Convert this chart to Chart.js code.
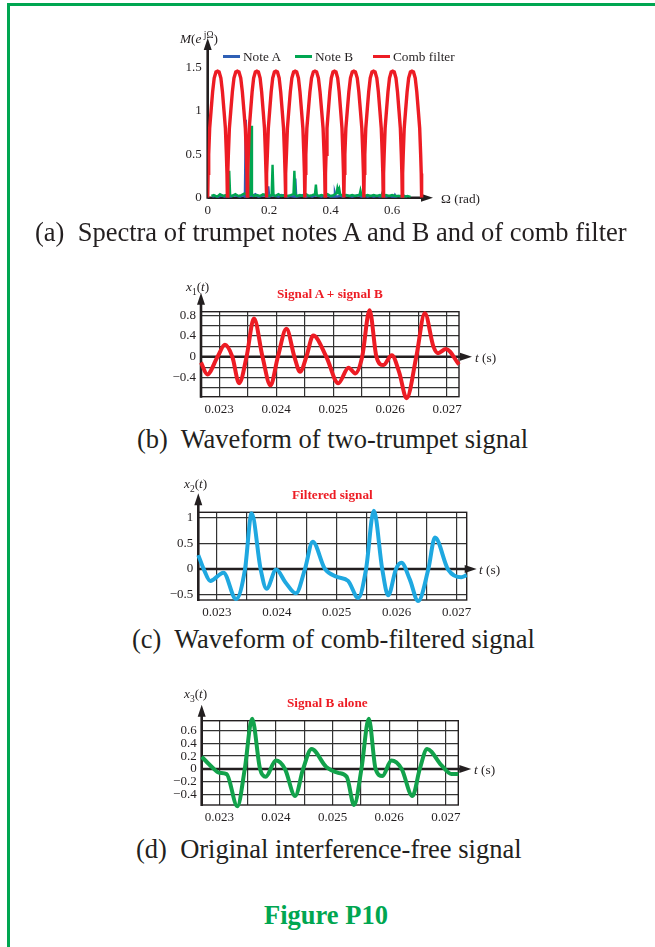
<!DOCTYPE html>
<html>
<head>
<meta charset="utf-8">
<script src="https://cdn.jsdelivr.net/npm/chart.js@4.4.1/dist/chart.umd.min.js"></script>
<style>
  body { margin: 0; background: #fff; }
  #page { position: relative; width: 655px; height: 947px; overflow: hidden; font-family: "Liberation Serif", "Times New Roman", serif; color: #231f20; }
  .frame-top { position: absolute; left: 7px; top: 3px; width: 648px; height: 3px; background: #00a651; }
  .frame-left { position: absolute; left: 7px; top: 3px; width: 3px; height: 944px; background: #00a651; }
  .plot { position: absolute; }
  .lbl { position: absolute; white-space: nowrap; line-height: 1; font-size: 13.3px; }
  .lbl sub, .lbl sup { font-size: 9.5px; line-height: 0; }
  .ttl { position: absolute; white-space: nowrap; line-height: 1; font-size: 13.2px; font-weight: bold; color: #ed1c24; }
  .cap { position: absolute; white-space: pre; line-height: 1; font-size: 26.5px; }
  .fig { position: absolute; white-space: nowrap; line-height: 1; font-size: 26.5px; font-weight: bold; color: #00a651; }
  .key { position: absolute; height: 3px; width: 17px; }
</style>
</head>
<body>
<div id="page">
  <div class="frame-top"></div>
  <div class="frame-left"></div>

  <!-- (a) spectra -->
  <div class="plot" style="left:150px; top:20px;"><canvas id="specChart" width="340" height="210"></canvas></div>
  <div class="lbl" style="left:180px; top:32px;"><i>M</i>(<i>e</i><sup> j&Omega;</sup>)</div>
  <div class="key" style="left:223px; top:55px; background:#2e5fb5;"></div>
  <div class="lbl" style="left:243px; top:50px;">Note A</div>
  <div class="key" style="left:295px; top:55px; background:#00a651;"></div>
  <div class="lbl" style="left:315px; top:50px;">Note B</div>
  <div class="key" style="left:373px; top:55px; background:#ed1c24;"></div>
  <div class="lbl" style="left:393px; top:50px;">Comb filter</div>
  <div class="lbl" style="left:441px; top:192px;">&Omega; (rad)</div>
  <div class="cap" style="left:35px; top:219px;">(a)  Spectra of trumpet notes A and B and of comb filter</div>

  <!-- (b) two-trumpet signal -->
  <div class="plot" style="left:150px; top:275px;"><canvas id="mixChart" width="340" height="145"></canvas></div>
  <div class="lbl" style="left:186px; top:280px;"><i>x</i><sub>1</sub>(<i>t</i>)</div>
  <div class="ttl" style="left:277px; top:287px;">Signal A + signal B</div>
  <div class="lbl" style="left:475px; top:351px;"><i>t</i> (s)</div>
  <div class="cap" style="left:137px; top:426px;">(b)  Waveform of two-trumpet signal</div>

  <!-- (c) filtered signal -->
  <div class="plot" style="left:150px; top:470px;"><canvas id="filtChart" width="340" height="150"></canvas></div>
  <div class="lbl" style="left:184px; top:477px;"><i>x</i><sub>2</sub>(<i>t</i>)</div>
  <div class="ttl" style="left:292px; top:488px;">Filtered signal</div>
  <div class="lbl" style="left:479px; top:563px;"><i>t</i> (s)</div>
  <div class="cap" style="left:132px; top:626px;">(c)  Waveform of comb-filtered signal</div>

  <!-- (d) signal B alone -->
  <div class="plot" style="left:150px; top:680px;"><canvas id="origChart" width="340" height="145"></canvas></div>
  <div class="lbl" style="left:184px; top:687px;"><i>x</i><sub>3</sub>(<i>t</i>)</div>
  <div class="ttl" style="left:287px; top:696px;">Signal B alone</div>
  <div class="lbl" style="left:474px; top:763px;"><i>t</i> (s)</div>
  <div class="cap" style="left:136px; top:836px;">(d)  Original interference-free signal</div>

  <div class="fig" style="left:264px; top:902px;">Figure P10</div>
</div>

<script>
// ---- (a) spectra ----
const noteAOmega = [
  0.015, 0.025, 0.035, 0.045, 0.055, 0.065, 0.075, 0.085, 0.095, 0.105,
  0.115, 0.121, 0.124, 0.127, 0.135, 0.145, 0.155, 0.165, 0.175, 0.185,
  0.194, 0.197, 0.200, 0.210, 0.220, 0.230, 0.240, 0.250, 0.260, 0.270,
  0.282, 0.285, 0.288, 0.300, 0.310, 0.320, 0.330, 0.340, 0.350, 0.360,
  0.370, 0.380, 0.390, 0.400, 0.411, 0.414, 0.417, 0.430, 0.440, 0.450,
  0.460, 0.470, 0.480, 0.490, 0.500, 0.510, 0.520, 0.530, 0.540, 0.550,
  0.560, 0.570, 0.580, 0.590, 0.600, 0.606, 0.609, 0.612, 0.620, 0.630,
  0.640, 0.650
];
const noteAMag = [
  0.01, 0.02, 0.01, 0.03, 0.01, 0.02, 0.01, 0.03, 0.02, 0.01,
  0.03, 0.01, 0.90, 0.01, 0.03, 0.02, 0.04, 0.01, 0.02, 0.03,
  0.01, 0.13, 0.01, 0.03, 0.02, 0.01, 0.03, 0.02, 0.01, 0.02,
  0.01, 0.22, 0.01, 0.02, 0.03, 0.01, 0.02, 0.01, 0.03, 0.02,
  0.01, 0.02, 0.03, 0.01, 0.01, 0.05, 0.01, 0.02, 0.01, 0.03,
  0.02, 0.01, 0.02, 0.03, 0.01, 0.02, 0.01, 0.02, 0.01, 0.02,
  0.01, 0.03, 0.01, 0.02, 0.01, 0.01, 0.03, 0.01, 0.02, 0.01,
  0.02, 0.01
];
const noteBOmega = [
  0.012, 0.020, 0.030, 0.040, 0.050, 0.060, 0.067, 0.070, 0.073, 0.080,
  0.090, 0.100, 0.110, 0.120, 0.130, 0.138, 0.141, 0.144, 0.150, 0.160,
  0.170, 0.180, 0.190, 0.200, 0.208, 0.211, 0.214, 0.220, 0.230, 0.240,
  0.250, 0.260, 0.270, 0.279, 0.282, 0.285, 0.290, 0.300, 0.310, 0.320,
  0.330, 0.340, 0.349, 0.352, 0.355, 0.360, 0.370, 0.380, 0.390, 0.400,
  0.410, 0.419, 0.422, 0.425, 0.428, 0.431, 0.440, 0.450, 0.460, 0.470,
  0.480, 0.490, 0.494, 0.497, 0.500, 0.510, 0.520, 0.530, 0.540, 0.550,
  0.560, 0.565, 0.568, 0.571, 0.580, 0.590, 0.600, 0.610, 0.620, 0.633,
  0.636, 0.639, 0.650, 0.660
];
const noteBMag = [
  0.02, 0.03, 0.01, 0.04, 0.02, 0.03, 0.02, 0.31, 0.03, 0.02,
  0.04, 0.02, 0.03, 0.05, 0.02, 0.03, 0.83, 0.04, 0.02, 0.03,
  0.02, 0.04, 0.03, 0.02, 0.03, 0.38, 0.03, 0.02, 0.04, 0.02,
  0.03, 0.02, 0.03, 0.04, 0.31, 0.04, 0.02, 0.03, 0.02, 0.04,
  0.02, 0.03, 0.04, 0.15, 0.03, 0.02, 0.03, 0.02, 0.04, 0.02,
  0.03, 0.05, 0.11, 0.07, 0.10, 0.04, 0.02, 0.03, 0.02, 0.03,
  0.02, 0.03, 0.03, 0.08, 0.03, 0.02, 0.03, 0.02, 0.03, 0.02,
  0.03, 0.02, 0.05, 0.02, 0.03, 0.02, 0.03, 0.02, 0.02, 0.02,
  0.03, 0.01, 0.02, 0.01
];
// comb filter: notch positions and the shape of one lobe
const combZeros = [0, 0.064, 0.129, 0.191, 0.253, 0.316, 0.382, 0.443, 0.508, 0.571, 0.633, 0.696];
const lobeFrac = [0, 0.02, 0.05, 0.1, 0.17, 0.25, 0.33, 0.42, 0.5, 0.58, 0.67, 0.75, 0.83, 0.9, 0.95, 0.98];
const lobeMag  = [0, 0.28, 0.5, 0.8, 1.0, 1.22, 1.38, 1.45, 1.46, 1.45, 1.38, 1.22, 1.0, 0.8, 0.5, 0.28];
const specYTicks = [0, 0.5, 1, 1.5];
const specYLabels = ['0', '0.5', '1', '1.5'];
const specXTicks = [0, 0.2, 0.4, 0.6];
const specXLabels = ['0', '0.2', '0.4', '0.6'];

// ---- (b)(c)(d) waveforms ----
const timeMix = [0.02268, 0.02279, 0.02297, 0.02310, 0.02323, 0.02335, 0.02348, 0.02361, 0.02376, 0.02390,
  0.02403, 0.02418, 0.02432, 0.02442, 0.02453, 0.02465, 0.02488, 0.02509, 0.02527, 0.02539,
  0.02551, 0.02564, 0.02576, 0.02588, 0.02603, 0.02616, 0.02629, 0.02646, 0.02661, 0.02676,
  0.02684, 0.02698, 0.02721];
const signalMix = [-0.11, -0.34, 0, 0.23, 0, -0.51, 0, 0.74, 0, -0.55,
  0, 0.54, 0, -0.29, 0, 0.41, 0, -0.51, -0.21, -0.32,
  0, 0.90, 0, -0.16, 0.03, -0.30, -0.80, 0, 0.84, 0.20,
  0.07, 0.15, -0.15];

const timeFilt = [0.02269, 0.02278, 0.02289, 0.02311, 0.02332, 0.02347, 0.02358, 0.02373, 0.02383, 0.02399,
  0.02414, 0.02432, 0.02447, 0.02460, 0.02480, 0.02500, 0.02519, 0.02536, 0.02549, 0.02562,
  0.02576, 0.02586, 0.02599, 0.02608, 0.02622, 0.02636, 0.02653, 0.02664, 0.02686, 0.02708,
  0.02717];
const signalFilt = [0.27, 0, -0.23, -0.07, -0.58, 0, 1.08, 0, -0.38, -0.01,
  -0.25, -0.47, 0, 0.53, 0.01, -0.15, -0.23, -0.56, 0, 1.13,
  0, -0.51, 0, 0.12, -0.20, -0.62, 0, 0.61, -0.01, -0.16,
  -0.12];

const timeOrig = [0.02269, 0.02287, 0.02300, 0.02313, 0.02332, 0.02345, 0.02358, 0.02372, 0.02382, 0.02400,
  0.02416, 0.02434, 0.02448, 0.02463, 0.02489, 0.02510, 0.02525, 0.02538, 0.02551, 0.02564,
  0.02576, 0.02588, 0.02604, 0.02622, 0.02641, 0.02654, 0.02667, 0.02692, 0.02710, 0.02722];
const signalOrig = [0.19, 0.03, -0.06, -0.08, -0.58, 0, 0.78, 0, -0.12, 0.13,
  0, -0.42, 0, 0.31, 0.03, -0.06, -0.12, -0.56, 0, 0.78,
  0, -0.11, 0.13, 0, -0.42, 0, 0.31, 0.06, -0.08, -0.08];

const waveXTicks = [0.023, 0.0235, 0.024, 0.0245, 0.025, 0.0255, 0.026, 0.0265, 0.027];
const waveXLabels = ['0.023', '', '0.024', '', '0.025', '', '0.026', '', '0.027'];
const mixYTicks = [-0.6, -0.4, -0.2, 0, 0.2, 0.4, 0.6, 0.8];
const mixYLabels = ['', '\u22120.4', '', '0', '', '0.4', '', '0.8'];
const filtYTicks = [-0.5, 0, 0.5, 1];
const filtYLabels = ['\u22120.5', '0', '0.5', '1'];
const origYTicks = [-0.4, -0.2, 0, 0.2, 0.4, 0.6];
const origYLabels = ['\u22120.4', '\u22120.2', '0', '0.2', '0.4', '0.6'];

const INK = '#231f20';
const tickFont = { family: "'Liberation Serif', 'Times New Roman', serif", size: 13 };

// axes with arrowheads, plus the plot frame for the waveform panels
const axisArrows = {
    id: 'axisArrows',
    beforeDatasetsDraw(chart, args, opts) {
        const { ctx, chartArea: a, scales } = chart;
        const y0 = scales.y.getPixelForValue(0);
        const tipX = a.right + opts.right;
        const tipY = a.top - opts.up;
        ctx.save();
        ctx.strokeStyle = INK;
        ctx.fillStyle = INK;
        if (opts.box) {
            ctx.lineWidth = 1.4;
            ctx.strokeRect(a.left, a.top, a.right - a.left, a.bottom - a.top);
        }
        ctx.lineWidth = 2.6;
        ctx.beginPath();
        ctx.moveTo(a.left, y0);
        ctx.lineTo(tipX - 8, y0);
        ctx.moveTo(a.left, a.bottom + 1);
        ctx.lineTo(a.left, tipY + 8);
        ctx.stroke();
        ctx.beginPath();
        ctx.moveTo(tipX, y0);
        ctx.lineTo(tipX - 12, y0 - 4);
        ctx.lineTo(tipX - 12, y0 + 4);
        ctx.closePath();
        ctx.moveTo(a.left, tipY);
        ctx.lineTo(a.left - 4, tipY + 12);
        ctx.lineTo(a.left + 4, tipY + 12);
        ctx.closePath();
        ctx.fill();
        ctx.restore();
    },
};

function toPoints(xs, ys) {
    return xs.map((x, i) => ({ x, y: ys[i] }));
}

// lays out the chart area at fixed pixel offsets inside the canvas
function fixedScales(o) {
    return {
        x: {
            type: 'linear',
            min: o.xMin,
            max: o.xMax,
            afterFit: (s) => { s.height = o.bottom; },
            afterBuildTicks: (s) => { s.ticks = o.xTicks.map((v) => ({ value: v })); },
            ticks: {
                autoSkip: false,
                maxRotation: 0,
                padding: o.xPad,
                color: INK,
                font: tickFont,
                callback: (v, i) => o.xLabels[i],
            },
            grid: {
                display: o.grid,
                drawTicks: false,
                color: '#333',
                lineWidth: 1.2,
            },
            border: { display: false },
        },
        y: {
            type: 'linear',
            min: o.yMin,
            max: o.yMax,
            afterFit: (s) => { s.width = o.left; },
            afterBuildTicks: (s) => { s.ticks = o.yTicks.map((v) => ({ value: v })); },
            ticks: {
                autoSkip: false,
                padding: o.yPad,
                color: INK,
                font: tickFont,
                callback: (v, i) => o.yLabels[i],
            },
            grid: {
                display: o.grid,
                drawTicks: false,
                color: '#333',
                lineWidth: (c) => (c.tick && c.tick.value === 0 ? 0 : 1.2),
            },
            border: { display: false },
        },
    };
}

// build the comb filter curve from the notch positions and lobe shape
const combPoints = [];
for (let i = 0; i < combZeros.length - 1; i++) {
    const w = combZeros[i + 1] - combZeros[i];
    lobeFrac.forEach((f, k) => combPoints.push({ x: combZeros[i] + f * w, y: lobeMag[k] }));
}
combPoints.push({ x: combZeros[combZeros.length - 1], y: 0 });

new Chart(document.getElementById('specChart'), {
    type: 'line',
    data: {
        datasets: [
            { label: 'Comb filter', data: combPoints, borderColor: '#ed1c24', borderWidth: 3.4, order: 1 },
            { label: 'Note B', data: toPoints(noteBOmega, noteBMag), borderColor: '#00a651', borderWidth: 2.4, order: 2 },
            { label: 'Note A', data: toPoints(noteAOmega, noteAMag), borderColor: '#2e5fb5', borderWidth: 2.4, order: 3 },
        ],
    },
    options: {
        responsive: false,
        animation: false,
        events: [],
        elements: { point: { radius: 0 }, line: { tension: 0 } },
        layout: { padding: { top: 18, right: 57, left: 0, bottom: 0 } },
        plugins: {
            legend: { display: false },
            tooltip: { enabled: false },
            axisArrows: { up: 0, right: 0, box: false },
        },
        scales: fixedScales({
            xMin: 0, xMax: 0.733, yMin: 0, yMax: 1.842,
            left: 57.7, bottom: 32.3, xPad: 5, yPad: 6, grid: false,
            xTicks: specXTicks, xLabels: specXLabels,
            yTicks: specYTicks, yLabels: specYLabels,
        }),
    },
    plugins: [axisArrows],
});

function waveChart(id, times, values, color, o) {
    return new Chart(document.getElementById(id), {
        type: 'line',
        data: {
            datasets: [{
                data: toPoints(times, values),
                borderColor: color,
                borderWidth: 4,
                cubicInterpolationMode: 'monotone',
                clip: false,
            }],
        },
        options: {
            responsive: false,
            animation: false,
            events: [],
            elements: { point: { radius: 0 } },
            layout: { padding: { top: o.top, right: o.right, left: 0, bottom: 0 } },
            plugins: {
                legend: { display: false },
                tooltip: { enabled: false },
                axisArrows: { up: o.up, right: o.arrow, box: true },
            },
            scales: fixedScales(Object.assign({ xPad: 5, yPad: 5, grid: true, xTicks: waveXTicks, xLabels: waveXLabels }, o)),
        },
        plugins: [axisArrows],
    });
}

waveChart('mixChart', timeMix, signalMix, '#ed1c24', {
    xMin: 0.02268, xMax: 0.02721, yMin: -0.77, yMax: 0.87,
    left: 51, bottom: 23.3, top: 36.7, right: 31, up: 19, arrow: 13,
    yTicks: mixYTicks, yLabels: mixYLabels,
});

waveChart('filtChart', timeFilt, signalFilt, '#1fa8e0', {
    xMin: 0.02269, xMax: 0.02717, yMin: -0.60, yMax: 1.10,
    left: 48.3, bottom: 20, top: 42.3, right: 23.3, up: 19, arrow: 10,
    yTicks: filtYTicks, yLabels: filtYLabels,
});

waveChart('origChart', timeOrig, signalOrig, '#12a24b', {
    xMin: 0.02269, xMax: 0.02722, yMin: -0.56, yMax: 0.75,
    left: 51.7, bottom: 20, top: 40.7, right: 31.7, up: 16, arrow: 13,
    yTicks: origYTicks, yLabels: origYLabels,
});
</script>
</body>
</html>
